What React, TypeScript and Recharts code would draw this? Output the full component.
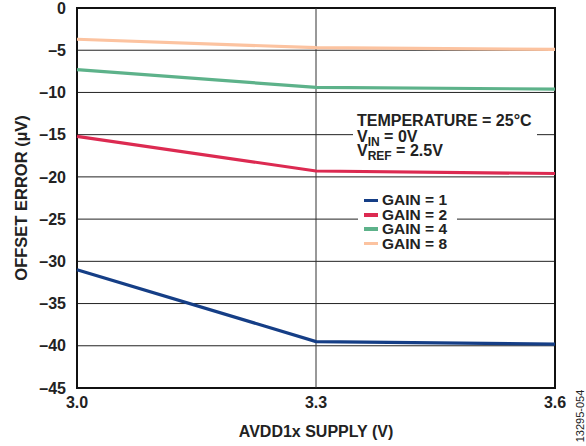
import React from 'react';
import {
  LineChart,
  Line,
  XAxis,
  YAxis,
  CartesianGrid,
  ReferenceLine,
  ReferenceArea,
} from 'recharts';

const supply = [3.0, 3.3, 3.6];
const gain1 = [-31.0, -39.5, -39.8];
const gain2 = [-15.2, -19.3, -19.6];
const gain4 = [-7.3, -9.4, -9.6];
const gain8 = [-3.7, -4.7, -4.9];
const yTicks = [0, -5, -10, -15, -20, -25, -30, -35, -40, -45];
const xTicks = [3.0, 3.3, 3.6];

const series = [
  { key: 'g1', name: 'GAIN = 1', color: '#153e86' },
  { key: 'g2', name: 'GAIN = 2', color: '#dc2a51' },
  { key: 'g4', name: 'GAIN = 4', color: '#5db28a' },
  { key: 'g8', name: 'GAIN = 8', color: '#fcc3a0' },
];

const data = supply.map((v, i) => ({
  v,
  g1: gain1[i],
  g2: gain2[i],
  g4: gain4[i],
  g8: gain8[i],
}));

const FONT = '"Liberation Sans", Arial, sans-serif';
const tickStyle = { fontSize: 16, fontWeight: 700, fill: '#222', fontFamily: FONT };

const sub: React.CSSProperties = { fontSize: 12, position: 'relative', top: 4 };

// baseline y of each condition line (page px)
const condLines = [125.7, 142.3, 155.7];

export default function App() {
  return (
    <div style={{ position: 'absolute', left: 0, top: 0, width: 586, height: 446, background: '#fff' }}>
      <LineChart width={586} height={446} data={data} margin={{ top: 8, right: 31, left: 0, bottom: 0 }}>
        <CartesianGrid vertical={false} stroke="#222" strokeWidth={1} strokeOpacity={1} />
        <ReferenceLine x={3.3} stroke="#333" strokeWidth={1} />
        <XAxis
          dataKey="v"
          type="number"
          domain={[3.0, 3.6]}
          ticks={xTicks}
          tickFormatter={(v: number) => v.toFixed(1)}
          axisLine={false}
          tickLine={false}
          tickMargin={3}
          height={58}
          tick={tickStyle}
          label={{ value: 'AVDD1x SUPPLY (V)', position: 'insideBottom', offset: 9, style: tickStyle }}
        />
        <YAxis
          type="number"
          domain={[-45, 0]}
          ticks={yTicks}
          tickFormatter={(v: number) => String(v).replace('-', '\u2013')}
          axisLine={false}
          tickLine={false}
          tickMargin={5}
          width={77}
          tick={tickStyle}
          interval={0}
        />
        {series.map((s) => (
          <Line
            key={s.key}
            dataKey={s.key}
            name={s.name}
            stroke={s.color}
            strokeWidth={3.2}
            dot={false}
            type="linear"
            isAnimationActive={false}
          />
        ))}
        <ReferenceArea x1={3.0} x2={3.6} y1={-45} y2={0} fill="none" stroke="#111" strokeWidth={2} />
      </LineChart>

      {/* legend */}
      <div
        style={{
          position: 'absolute',
          left: 358,
          top: 190,
          width: 99,
          height: 60,
          background: '#fff',
          fontFamily: FONT,
          fontWeight: 700,
          fontSize: 15.5,
          color: '#222',
        }}
      >
        {series.map((s, i) => (
          <div
            key={s.key}
            style={{ position: 'absolute', left: 6, top: 3.4 + i * 14.4, height: 14, display: 'flex', alignItems: 'center', whiteSpace: 'nowrap' }}
          >
            <span style={{ width: 14, height: 3.5, background: s.color, marginRight: 4, display: 'inline-block' }} />
            <span style={{ lineHeight: '14px' }}>{s.name}</span>
          </div>
        ))}
      </div>

      <div
        style={{
          position: 'absolute',
          left: 21,
          top: 198,
          transform: 'translate(-50%, -50%) rotate(-90deg)',
          whiteSpace: 'nowrap',
          fontFamily: FONT,
          fontWeight: 700,
          fontSize: 16.5,
          color: '#222',
        }}
      >
        OFFSET ERROR (µV)
      </div>

      {/* conditions */}
      <div
        style={{
          position: 'absolute',
          left: 353,
          top: 111,
          width: 184,
          height: 48,
          background: '#fff',
          fontFamily: FONT,
          fontWeight: 700,
          fontSize: 16,
          color: '#222',
        }}
      >
        {[
          <>TEMPERATURE = 25°C</>,
          <>V<span style={sub}>IN</span> = 0V</>,
          <>V<span style={sub}>REF</span> = 2.5V</>,
        ].map((c, i) => (
          <div key={i} style={{ position: 'absolute', left: 4, top: condLines[i] - 12.05 - 111, lineHeight: '13px', whiteSpace: 'nowrap' }}>
            {c}
          </div>
        ))}
      </div>

      <div
        style={{
          position: 'absolute',
          left: 580,
          top: 416,
          transform: 'translate(-50%, -50%) rotate(-90deg)',
          whiteSpace: 'nowrap',
          fontFamily: FONT,
          fontSize: 11,
          color: '#222',
        }}
      >
        13295-054
      </div>
    </div>
  );
}
